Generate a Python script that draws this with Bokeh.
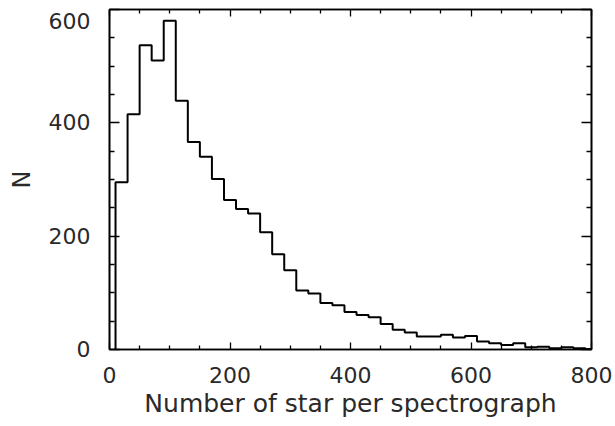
import numpy as np
from bokeh.plotting import figure
from bokeh.models import Range1d, LinearAxis, FixedTicker, CustomLabelingPolicy
from bokeh.embed import file_html
from bokeh.resources import INLINE

# ---- data ----
bin_start = 10
bin_width = 20
counts = [295, 415, 537, 510, 580, 439, 366, 340, 301, 264,
          248, 240, 207, 168, 140, 104, 99, 82, 78, 66,
          61, 57, 45, 35, 30, 23, 23, 26, 21, 24,
          14, 11, 8, 11, 4, 5, 2, 4, 2, 1]
x_major = [0, 200, 400, 600, 800]
x_minor = [50, 100, 150, 250, 300, 350, 450, 500, 550, 650, 700, 750]
y_major = [0, 200, 400, 600]
y_minor = [50, 100, 150, 250, 300, 350, 450, 500, 550]
x_label = "Number of star per spectrograph"
y_label = "N"

FONT = "DejaVu Sans"
TXT = "#2a2a2a"

edges = bin_start + bin_width * np.arange(len(counts) + 1)
xs = np.repeat(edges, 2)
ys = np.concatenate([[0], np.repeat(counts, 2), [0]])

p = figure(width=615, height=426, output_backend="svg", toolbar_location=None,
           x_range=Range1d(0, 800), y_range=Range1d(0, 600),
           min_border_left=109, min_border_right=24, min_border_top=9,
           min_border_bottom=77)
p.background_fill_color = "white"
p.border_fill_color = "white"
p.outline_line_color = "black"
p.outline_line_width = 1.6
p.xgrid.visible = False
p.ygrid.visible = False

p.line(xs, ys, line_color="black", line_width=2)

xt = FixedTicker(ticks=x_major, minor_ticks=x_minor)
yt = FixedTicker(ticks=y_major, minor_ticks=y_minor)

no_labels = CustomLabelingPolicy(code="""
    const ids = Array.from(indices)
    for (const i of ids) indices.unset(i)
    return indices
""")

def style(ax, ticker, tin, minin, labels=True):
    ax.ticker = ticker
    ax.major_tick_in = tin
    ax.major_tick_out = 0
    ax.minor_tick_in = minin
    ax.minor_tick_out = 0
    ax.major_tick_line_color = "black"
    ax.minor_tick_line_color = "black"
    ax.major_tick_line_width = 1.3
    ax.minor_tick_line_width = 1.3
    ax.axis_line_color = "black"
    ax.axis_line_width = 1.6
    ax.major_label_text_font = FONT
    ax.major_label_text_color = TXT
    ax.major_label_text_font_size = "22px"
    ax.axis_label_text_font = FONT
    ax.axis_label_text_color = TXT
    ax.axis_label_text_font_style = "normal"
    if not labels:
        ax.major_label_policy = no_labels
        ax.major_label_text_font_size = "0px"
        ax.major_label_standoff = 0

xa = p.xaxis[0]
style(xa, xt, 7, 4)
xa.major_label_standoff = 17
xa.axis_label = x_label
xa.axis_label_text_font_size = "25px"
xa.axis_label_standoff = 3

ya = p.yaxis[0]
style(ya, yt, 10, 5)
ya.major_label_standoff = 19
ya.axis_label = y_label
ya.axis_label_text_font_size = "24px"
ya.axis_label_standoff = 10
ya.major_label_text_line_height = 0.35
ya.major_label_overrides = {600: "\n600"}

top = LinearAxis()
style(top, xt, 7, 4, labels=False)
p.add_layout(top, "above")
right = LinearAxis()
style(right, yt, 10, 5, labels=False)
p.add_layout(right, "right")

open("out.html", "w").write(file_html(p, INLINE))
